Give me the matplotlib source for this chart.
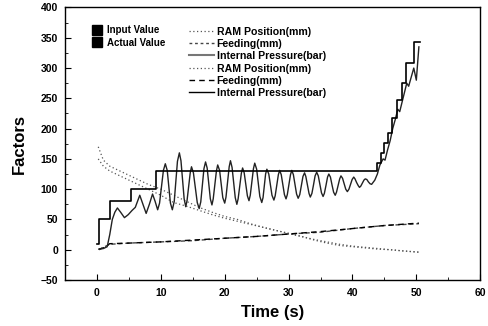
import numpy as np
import matplotlib.pyplot as plt
from matplotlib.lines import Line2D

plt.rcParams['font.family'] = ['Liberation Sans', 'DejaVu Sans']
plt.rcParams['font.weight'] = 'bold'

# internal pressure, input (staircase)
p_in_t = [0.0, 0.3, 2.1, 5.3, 9.3, 43.8, 44.4, 44.9, 45.6, 46.2, 46.9, 47.8, 48.4, 49.6, 50.5]
p_in_v = [10, 50, 80, 100, 130, 143, 159, 176, 192, 218, 247, 276, 309, 343, 343]

# internal pressure, actual (oscillating)
p_act_t = [0.3, 1.0, 1.6, 2.0, 2.4, 2.8, 3.2, 3.7, 4.3, 4.9, 5.5, 6.0, 6.7, 7.2, 7.7, 8.2, 8.7, 9.1, 9.5,
           9.8, 10.1, 10.4, 10.7, 11.0, 11.25, 11.5, 11.8, 12.1, 12.35, 12.6, 12.9,
           13.15, 13.4, 13.65, 13.9, 14.1, 14.35, 14.6, 14.8, 15.1, 15.4, 15.7, 16.0,
           16.25, 16.5, 16.75, 17.0, 17.25, 17.5, 17.75, 18.0, 18.2, 18.45, 18.7, 18.9,
           19.2, 19.45, 19.7, 20.0, 20.2, 20.45, 20.7, 20.9, 21.15, 21.4, 21.65, 21.9,
           22.1, 22.35, 22.6, 22.8, 23.05, 23.3, 23.55, 23.8, 24.0, 24.25, 24.5, 24.7,
           25.0, 25.25, 25.5, 25.8, 26.0, 26.2, 26.4, 26.6, 26.9, 27.15, 27.4, 27.7,
           27.9, 28.15, 28.4, 28.6, 28.85, 29.1, 29.35, 29.6, 29.8, 30.05, 30.3, 30.5,
           30.75, 31.0, 31.25, 31.5, 31.75, 32.0, 32.25, 32.5, 32.7, 32.95, 33.2, 33.4,
           33.65, 33.9, 34.15, 34.4, 34.65, 34.9, 35.15, 35.4, 35.6, 35.85, 36.1, 36.3,
           36.55, 36.8, 37.05, 37.3, 37.5, 37.75, 38.0, 38.2, 38.45, 38.7, 38.95, 39.2,
           39.45, 39.7, 39.95, 40.2, 40.4, 40.65, 40.9, 41.1, 41.3, 41.55, 41.8, 42.0,
           42.25, 42.5, 42.75, 43.0, 43.5, 43.9, 44.3, 44.8, 45.1, 45.5, 45.9, 46.3,
           46.7, 47.1, 47.4, 47.8, 48.1, 48.5, 48.8, 49.2, 49.6, 50.0, 50.4]
p_act_v = [1, 2, 5, 25, 50, 62, 69, 62, 53, 58, 65, 70, 90, 75, 60, 75, 92, 80, 66,
           77, 104, 131, 142, 131, 104, 77, 66, 80, 113, 146, 160,
           147, 115, 84, 71, 81, 104, 127, 137, 127, 102, 78, 68,
           79, 106, 134, 145, 135, 110, 84, 74, 84, 107, 130, 140,
           131, 108, 86, 77, 87, 112, 137, 147, 136, 111, 86, 75,
           84, 105, 126, 135, 127, 108, 89, 81, 90, 112, 134, 143,
           133, 110, 88, 78, 86, 105, 125, 133, 125, 107, 90, 82,
           89, 106, 124, 131, 124, 107, 91, 84, 91, 107, 124, 131,
           124, 108, 92, 85, 91, 106, 121, 127, 121, 107, 93, 87,
           93, 107, 122, 128, 122, 108, 94, 88, 93, 106, 120, 125,
           120, 107, 95, 90, 95, 106, 117, 122, 118, 109, 100, 96,
           100, 108, 116, 120, 117, 111, 106, 103, 105, 110, 115, 117,
           116, 112, 109, 108, 115, 125, 140, 150, 148, 165, 180, 200,
           215, 232, 228, 245, 258, 275, 270, 285, 300, 280, 335]

# RAM position
ram_t = [0.2, 1, 2, 4, 6, 8, 10, 12, 14, 16, 18, 20, 22, 24, 26, 28, 30, 32, 34, 36, 38, 40, 42, 44, 46, 48, 50.4]
ram_in_v = [170, 148, 138, 128, 118, 108, 100, 90, 80, 70, 62, 55, 50, 43, 37, 32, 27, 22, 17, 13, 9, 6, 4, 2, 0, -2, -4]
ram_act_v = [150, 138, 130, 120, 110, 100, 90, 78, 72, 65, 58, 52, 47, 42, 37, 32, 27, 22, 16, 11, 7, 5, 3, 1, 0, -2, -4]

# feeding
feed_t = [0.3, 1.0, 2.0, 5, 10, 15, 20, 25, 30, 35, 40, 45, 50.4]
feed_in_v = [1, 3, 10, 11, 13, 16, 19, 22, 26, 30, 35, 40, 44]
feed_act_v = [0, 4, 9, 11, 13, 15, 19, 22, 26, 29, 35, 40, 43]

fig = plt.figure(figsize=(4.89, 3.26), dpi=100)
ax = fig.add_axes([0.133, 0.141, 0.849, 0.836])

grey = '#444444'
ax.plot(ram_t, ram_in_v, color='#555555', linestyle=(0, (1, 2)), linewidth=0.9)
ax.plot(ram_t, ram_act_v, color='#555555', linestyle=(0, (1, 2)), linewidth=0.9)
ax.plot(feed_t, feed_act_v, color=grey, linestyle=(0, (3, 2)), linewidth=1.0)
ax.plot(feed_t, feed_in_v, color='black', linestyle=(0, (4, 3)), linewidth=1.0)
ax.plot(p_act_t, p_act_v, color='#222222', linewidth=1.0)
ax.plot(p_in_t, p_in_v, color='black', linewidth=1.2, drawstyle='steps-post')

ax.set_xlim(-5, 60)
ax.set_ylim(-50, 400)
ax.set_xticks(np.arange(0, 61, 10))
ax.set_xticks(np.arange(-5, 61, 5), minor=True)
ax.set_yticks(np.arange(-50, 401, 50))
ax.set_yticks(np.arange(-50, 401, 25), minor=True)
ax.tick_params(direction='in', which='both', top=False, right=False, labelsize=7.5)
ax.tick_params(which='major', length=4, pad=6)
ax.tick_params(axis='y', which='major', pad=5)
ax.tick_params(which='minor', length=2)
for s in ax.spines.values():
    s.set_linewidth(1.0)

ax.set_xlabel('Time (s)', fontsize=12, fontweight='bold', labelpad=5)
ax.set_ylabel('Factors', fontsize=12, fontweight='bold', labelpad=10)

sq = [Line2D([], [], marker='s', color='black', linestyle='none', markersize=7),
      Line2D([], [], marker='s', color='black', linestyle='none', markersize=7)]
leg1 = ax.legend(sq, ['Input Value', 'Actual Value'], loc='upper left', bbox_to_anchor=(0.045, 0.968),
                 frameon=False, fontsize=7, handlelength=1.0, handletextpad=0.5, labelspacing=0.3)
ax.add_artist(leg1)

hs = [Line2D([], [], color='#555555', linestyle=(0, (1, 2)), linewidth=0.9),
      Line2D([], [], color=grey, linestyle=(0, (2, 2)), linewidth=1.0),
      Line2D([], [], color='#777777', linewidth=1.5),
      Line2D([], [], color='#555555', linestyle=(0, (1, 2)), linewidth=0.9),
      Line2D([], [], color='black', linestyle=(0, (4, 3)), linewidth=1.0),
      Line2D([], [], color='black', linewidth=1.0)]
labs = ['RAM Position(mm)', 'Feeding(mm)', 'Internal Pressure(bar)'] * 2
ax.legend(hs, labs, loc='upper left', bbox_to_anchor=(0.275, 0.965), frameon=False, fontsize=7.6,
          handlelength=2.4, handletextpad=0.25, labelspacing=0.22)

fig.savefig('out.png', dpi=100)
